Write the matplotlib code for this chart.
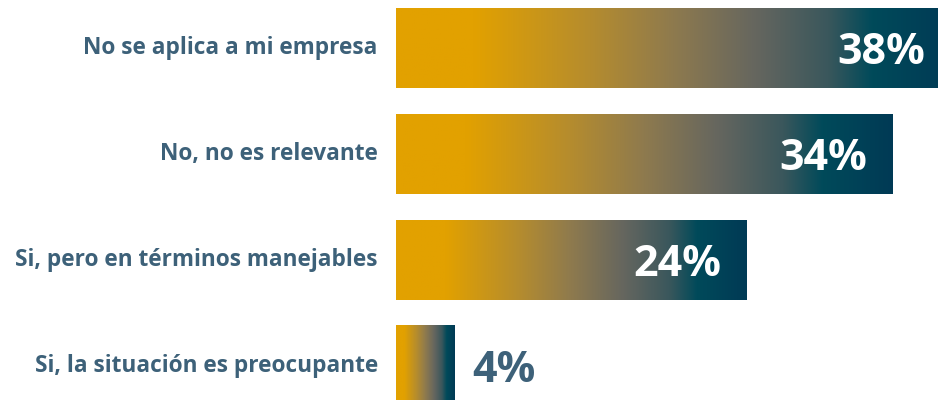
import numpy as np
import matplotlib.pyplot as plt
from matplotlib.colors import LinearSegmentedColormap

categories = ["No se aplica a mi empresa", "No, no es relevante",
              "Si, pero en términos manejables", "Si, la situación es preocupante"]
values = [38, 34, 24, 4]
value_labels = ["38%", "34%", "24%", "4%"]

label_color = "#3d6179"
grad = LinearSegmentedColormap.from_list("grad", [
    (0.0, "#e2a100"), (0.14, "#e2a100"), (0.35, "#b58c2e"), (0.50, "#8e7a4e"),
    (0.65, "#65665f"), (0.78, "#3a575c"), (0.86, "#004a5a"), (1.0, "#003a55")])

plt.rcParams['font.family'] = ['Open Sans', 'DejaVu Sans']
fig = plt.figure(figsize=(9.38, 4.0), dpi=100)
ax = fig.add_axes([396 / 938, 0, 542 / 938, 1])

h = 80 / 106
strip = np.linspace(0, 1, 256).reshape(1, -1)
for i, (v, lab) in enumerate(zip(values, value_labels)):
    ax.imshow(strip, cmap=grad, aspect='auto', interpolation='bilinear',
              extent=(0, v, i + h / 2, i - h / 2), zorder=2)
    if v > 10:
        ax.text(v - 1.75, i + 0.04, lab, ha='right', va='center', color='white',
                fontsize=31, fontweight='bold', zorder=3)
    else:
        ax.text(v + 1.2, i + 0.04, lab, ha='left', va='center', color=label_color,
                fontsize=31, fontweight='bold', zorder=3)
    ax.text(-1.25, i, categories[i], ha='right', va='center', color=label_color,
            fontsize=16.3, fontweight='bold', clip_on=False)

ax.set_xlim(0, 542 / 14.6)
ax.set_ylim((400 - 48) / 106, -48 / 106)
ax.axis('off')

fig.savefig("out.png", dpi=100)
